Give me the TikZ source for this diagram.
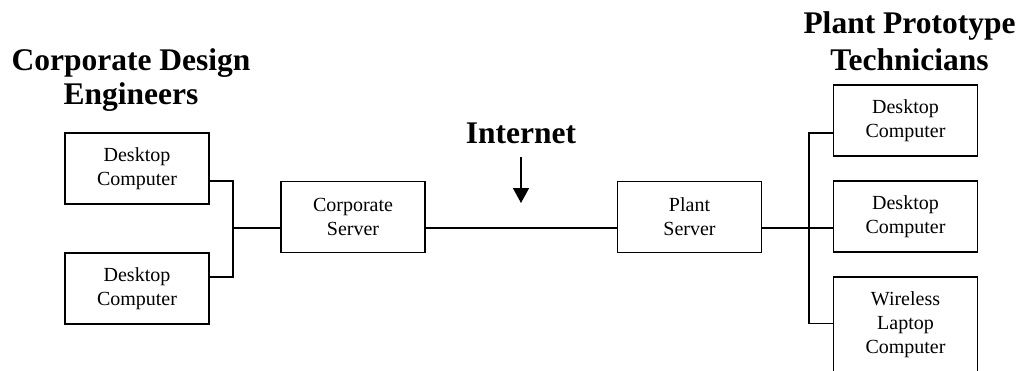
\documentclass[tikz,border=0pt]{standalone}
\usepackage{fontspec}
\setmainfont{Liberation Serif}
\usetikzlibrary{arrows.meta,calc}
\tikzset{
  unit/.style={draw, line width=1.5pt, minimum width=144pt, minimum height=71pt,
    inner sep=0pt, align=center, font=\fontsize{20}{24}\selectfont},
  title/.style={align=center, inner sep=0pt, font=\fontsize{31.5}{36}\selectfont\bfseries},
  link/.style={line width=1.5pt},
}
\begin{document}
\begin{tikzpicture}[x=1pt,y=-1pt]
  \useasboundingbox (0,0) rectangle (1021,370);

  % group headings
  \node[title, anchor=base] (hl) at (131,70) {Corporate Design};
  \node[title, anchor=base] (hl2) at (131,104) {Engineers};
  \node[title, anchor=base] (hr) at (909.5,33) {Plant Prototype};
  \node[title, anchor=base] (hr2) at (909.5,70) {Technicians};
  \node[title, anchor=base] (inet) at (521,143) {Internet};

  % corporate side
  \node[unit] (dl1) at (137,168.5) {Desktop\\Computer};
  \node[unit] (dl2) at (137,288.5) {Desktop\\Computer};
  \node[unit] (cs) at (353,217) {Corporate\\Server};

  % plant side
  \node[unit] (ps) at (689.5,217) {Plant\\Server};
  \node[unit] (dr1) at (905.5,120.5) {Desktop\\Computer};
  \node[unit] (dr2) at (905.5,216.5) {Desktop\\Computer};
  \node[unit, minimum height=96pt] (dr3) at (905.5,325) {Wireless\\Laptop\\Computer};

  % bus points
  \coordinate (lb) at (233,228);
  \coordinate (rb) at (809,228);
  \coordinate (tip) at (521,203);

  % left bus
  \draw[link] ($(dl1.east)+(0,12.5)$) -| (lb);
  \draw[link] ($(dl2.east)+(0,-11.5)$) -| (lb);
  \draw[link] (lb) -- ($(cs.west)+(0,11)$);

  % internet link
  \draw[link] ($(cs.east)+(0,11)$) -- ($(ps.west)+(0,11)$);
  \draw[line width=1.5pt, -{Triangle[width=16pt,length=15pt]}] (521,157) -- (tip);

  % right bus
  \draw[link] ($(ps.east)+(0,11)$) -- (rb) -- (rb -| dr2.west);
  \draw[link] ($(dr1.west)+(0,12.5)$) -| (rb);
  \draw[link] ($(dr3.north west)+(0,47)$) -| (rb);
\end{tikzpicture}
\end{document}
